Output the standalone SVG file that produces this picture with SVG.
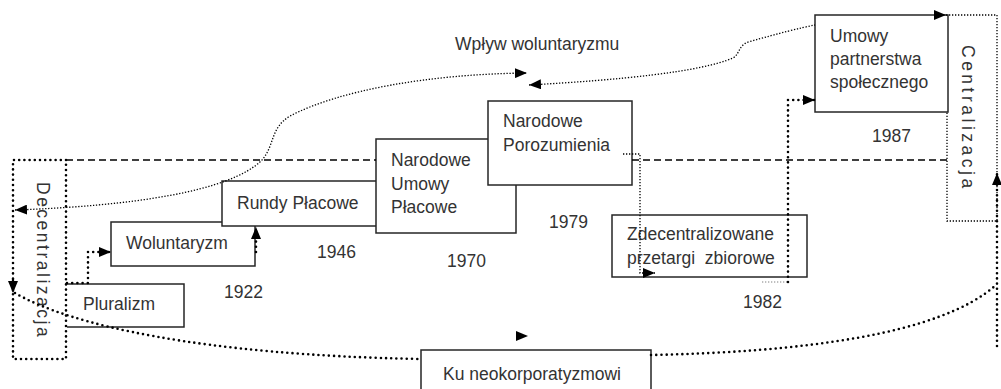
<svg xmlns="http://www.w3.org/2000/svg" width="1001" height="389" viewBox="0 0 1001 389">
<style>
text{font-family:"Liberation Sans",Arial,sans-serif;font-size:17.5px;fill:#333}
.box{fill:#fff;stroke:#262626;stroke-width:1.5}
.heavy{fill:none;stroke:#000;stroke-width:2.6;stroke-dasharray:0 5.2;stroke-linecap:round}
.fine{fill:none;stroke:#000;stroke-width:1.3;stroke-dasharray:1.3 1.7}
.faint{fill:none;stroke:#aaa;stroke-width:1.3;stroke-dasharray:1.3 1.7}
.dash{fill:none;stroke:#000;stroke-width:1.3;stroke-dasharray:7 4}
.end{marker-end:url(#ah)}
.start{marker-start:url(#ah)}
.none{stroke:none;fill:none}
</style>
<defs>
<marker id="ah" viewBox="0 0 12 10" refX="12" refY="5" markerWidth="12" markerHeight="10" markerUnits="userSpaceOnUse" orient="auto-start-reverse"><path d="M0,0L12,5L0,10z" fill="#000" stroke="none"/></marker>
</defs>
<rect width="1001" height="389" fill="#fff"/>

<g id="wplyw-label"><text x="455" y="50">Wpływ woluntaryzmu</text></g>

<g id="pluralizm"><path class="box" d="M67,284H184V327H67"/><text x="83" y="310">Pluralizm</text><text x="224" y="298">1922</text></g>
<g id="woluntaryzm"><rect class="box" x="111" y="222" width="144" height="44"/><text x="126" y="249">Woluntaryzm</text></g>
<g id="rundy-placowe"><rect class="box" x="222" y="181" width="155" height="45"/><text x="237" y="209">Rundy Płacowe</text><text x="317" y="258">1946</text></g>
<g id="narodowe-umowy-placowe"><rect class="box" x="376" y="139" width="140" height="94"/><text x="391" y="166">Narodowe</text><text x="391" y="190">Umowy</text><text x="391" y="213">Płacowe</text><text x="447" y="267">1970</text></g>
<g id="narodowe-porozumienia"><rect class="box" x="488" y="101" width="144" height="84"/><text x="503" y="127">Narodowe</text><text x="503" y="151">Porozumienia</text><text x="549" y="228">1979</text></g>
<g id="zdecentralizowane"><rect class="box" x="612" y="215" width="195" height="62"/><text x="627" y="240">Zdecentralizowane</text><text x="627" y="264" xml:space="preserve">przetargi  zbiorowe</text><text x="743" y="308">1982</text></g>
<g id="umowy-partnerstwa"><rect class="box" x="815" y="15" width="133" height="97"/><text x="830" y="42">Umowy</text><text x="830" y="65">partnerstwa</text><text x="830" y="88">społecznego</text><text x="872" y="142">1987</text></g>
<g id="ku-neokorporatyzmowi"><rect class="box" x="421" y="350" width="230" height="50"/><text x="443" y="380">Ku neokorporatyzmowi</text></g>
<g id="decentralizacja"><path class="heavy" d="M66,160L13,160L13,359L66,359Z"/><text transform="translate(37,182) rotate(90)" letter-spacing="2.5">Decentralizacja</text></g>
<g id="centralizacja"><path class="fine" d="M946,15L997,15L997,221L947,221L947,112"/><text transform="translate(962,45) rotate(90)" letter-spacing="3.5">Centralizacja</text></g>

<g id="connectors">
<path class="dash" d="M66,160L376,160"/>
<path class="dash" d="M632,160L947,160"/>
<path class="fine start end" d="M15,210C130,206 230,192 262,160C275,145 270,128 290,116C340,90 430,74 527,73"/>
<path class="fine start" d="M529,85C620,80 700,72 733,58C740,54 738,46 748,42C780,33 800,28 815,25"/>
<path class="none end" d="M934,15L946,15"/>
<path class="heavy end" d="M67,283L88,283L88,252L111,252"/>
<path class="heavy end" d="M256,252L256,227"/>
<path class="fine end" d="M623,154L640,154L640,273L655,273"/>
<path class="faint" d="M762,282L788,282"/>
<path class="heavy end" d="M788,282L788,100L815,100"/>
<path class="heavy end" d="M13,280L13,293"/>
<path class="heavy end" d="M997,346L997,173"/>
<path class="heavy" d="M15,293C70,325 200,355 421,359"/>
<path class="heavy" d="M651,355C800,352 940,335 996,285"/>
<path class="none end" d="M516,336L528,336"/>
</g>
</svg>
